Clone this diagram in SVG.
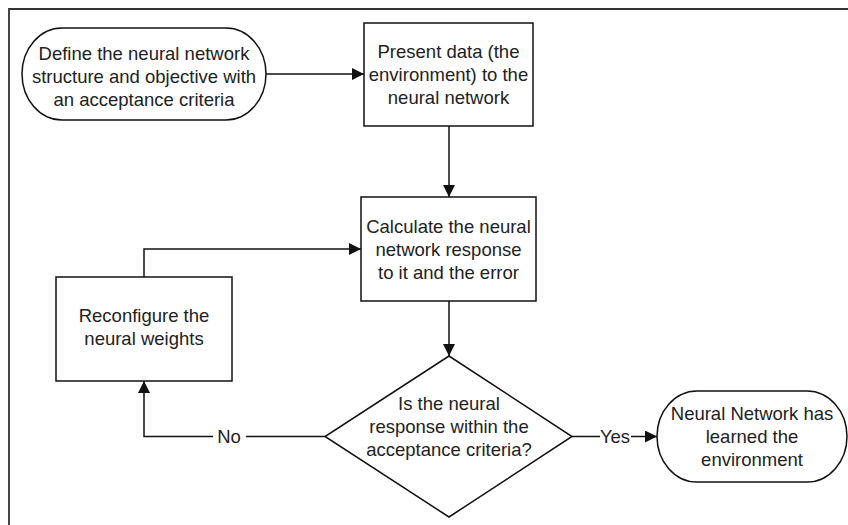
<svg xmlns="http://www.w3.org/2000/svg" width="848" height="525" viewBox="0 0 848 525">
<style>
.shape{fill:#fff;stroke:#111;stroke-width:1.5}
.edge{fill:none;stroke:#111;stroke-width:1.5}
text{font-family:"Liberation Sans",Arial,sans-serif;font-size:18.5px;fill:#222;text-anchor:middle}
.frame{fill:none;stroke:#333;stroke-width:1.8}
</style>
<defs>
<marker id="arr" markerUnits="userSpaceOnUse" markerWidth="12" markerHeight="12" viewBox="0 0 11 11" refX="11" refY="5.5" orient="auto">
<path d="M0,0 L11,5.5 L0,11 z" fill="#111"/>
</marker>
</defs>
<rect width="848" height="525" fill="#fff"/>
<path class="frame" d="M9,525 V9 H848"/>
<g id="connectors">
<line class="edge" x1="266" y1="74" x2="364" y2="74" marker-end="url(#arr)"/>
<line class="edge" x1="449" y1="126" x2="449" y2="197" marker-end="url(#arr)"/>
<line class="edge" x1="449" y1="301" x2="449" y2="356" marker-end="url(#arr)"/>
<path class="edge" d="M144,277 V249 H361" marker-end="url(#arr)"/>
<path class="edge" d="M325,436.5 H246 M213,436.5 H144 V381" marker-end="url(#arr)"/>
<text x="229" y="443">No</text>
<path class="edge" d="M572,436.5 H600 M631,436.5 H657" marker-end="url(#arr)"/>
<text x="615" y="443">Yes</text>
</g>
<g id="start">
<rect class="shape" x="22" y="28" width="244" height="92" rx="40" ry="46"/>
<text x="144" y="60">Define the neural network</text>
<text x="144" y="83">structure and objective with</text>
<text x="144" y="106">an acceptance criteria</text>
</g>
<g id="present">
<rect class="shape" x="364" y="23" width="169" height="103"/>
<text x="448.5" y="58">Present data (the</text>
<text x="448.5" y="81">environment) to the</text>
<text x="448.5" y="104">neural network</text>
</g>
<g id="calculate">
<rect class="shape" x="361" y="197" width="175" height="104"/>
<text x="448.5" y="233">Calculate the neural</text>
<text x="448.5" y="256">network response</text>
<text x="448.5" y="279">to it and the error</text>
</g>
<g id="reconfigure">
<rect class="shape" x="56" y="277" width="176" height="104"/>
<text x="144" y="322">Reconfigure the</text>
<text x="144" y="345">neural weights</text>
</g>
<g id="decision">
<polygon class="shape" points="449,356 572,436.5 449,517 325,436.5"/>
<text x="449" y="410">Is the neural</text>
<text x="449" y="433">response within the</text>
<text x="449" y="456">acceptance criteria?</text>
</g>
<g id="end">
<rect class="shape" x="657" y="391" width="190" height="91" rx="40" ry="45.5"/>
<text x="752" y="420">Neural Network has</text>
<text x="752" y="443">learned the</text>
<text x="752" y="466">environment</text>
</g>
</svg>
